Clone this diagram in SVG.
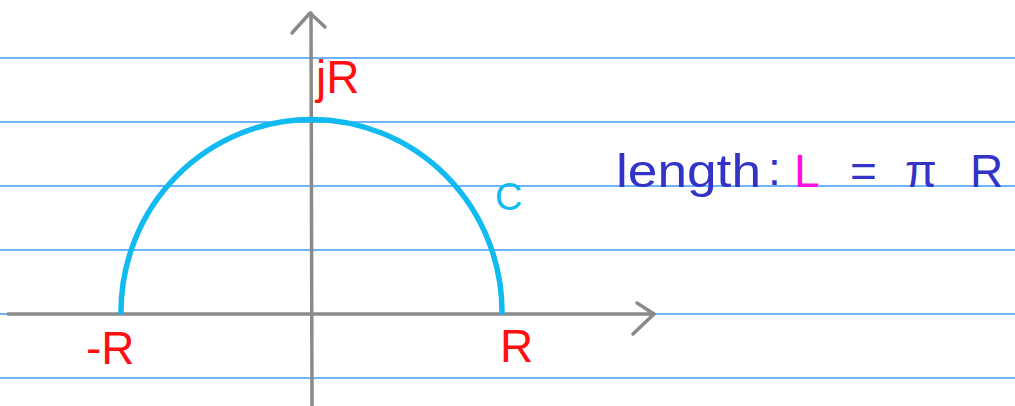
<svg xmlns="http://www.w3.org/2000/svg" width="1015" height="406" viewBox="0 0 1015 406">
<style>
.rule{stroke:#3d9bff;stroke-width:1.6;fill:none}
.axis{stroke:#8a8a8a;stroke-width:3.5;fill:none;stroke-linecap:round;stroke-linejoin:round}
.red{fill:#ff1010;font-family:"Liberation Sans",sans-serif;font-size:46px}
.blue{fill:#3333c8;font-family:"Liberation Sans",sans-serif;font-size:46px}
</style>
<rect width="1015" height="406" fill="#fff"/>
<g id="rules">
<line class="rule" x1="0" y1="58" x2="1015" y2="58"/>
<line class="rule" x1="0" y1="122" x2="1015" y2="122"/>
<line class="rule" x1="0" y1="186" x2="1015" y2="186"/>
<line class="rule" x1="0" y1="250" x2="1015" y2="250"/>
<line class="rule" x1="0" y1="314" x2="1015" y2="314"/>
<line class="rule" x1="0" y1="378" x2="1015" y2="378"/>
</g>
<g id="connectors">
<line class="axis" x1="8" y1="314" x2="654" y2="314"/>
<polyline class="axis" points="637,303 654,314 633,334"/>
<line class="axis" x1="312" y1="406" x2="311" y2="13"/>
<polyline class="axis" points="292,33 310,13 325,27"/>
</g>
<g id="arc">
<path d="M121,312 A190,192 0 0 1 502,312" fill="none" stroke="#12baf2" stroke-width="5.5" stroke-linecap="round"/>
<text x="495" y="210" fill="#12baf2" font-family="Liberation Sans,sans-serif" font-size="38">C</text>
</g>
<g id="labels">
<text class="red" x="316" y="93">jR</text>
<text class="red" x="86" y="364">-R</text>
<text class="red" x="500" y="362">R</text>
</g>
<g id="formula">
<text class="blue" x="616" y="187" textLength="145" lengthAdjust="spacingAndGlyphs">length</text>
<text class="blue" x="768" y="185">:</text>
<text x="794" y="187" fill="#ff10e0" font-family="Liberation Sans,sans-serif" font-size="46">L</text>
<text class="blue" x="850" y="187">=</text>
<text class="blue" x="905" y="187">π</text>
<text class="blue" x="970" y="187">R</text>
</g>
</svg>
